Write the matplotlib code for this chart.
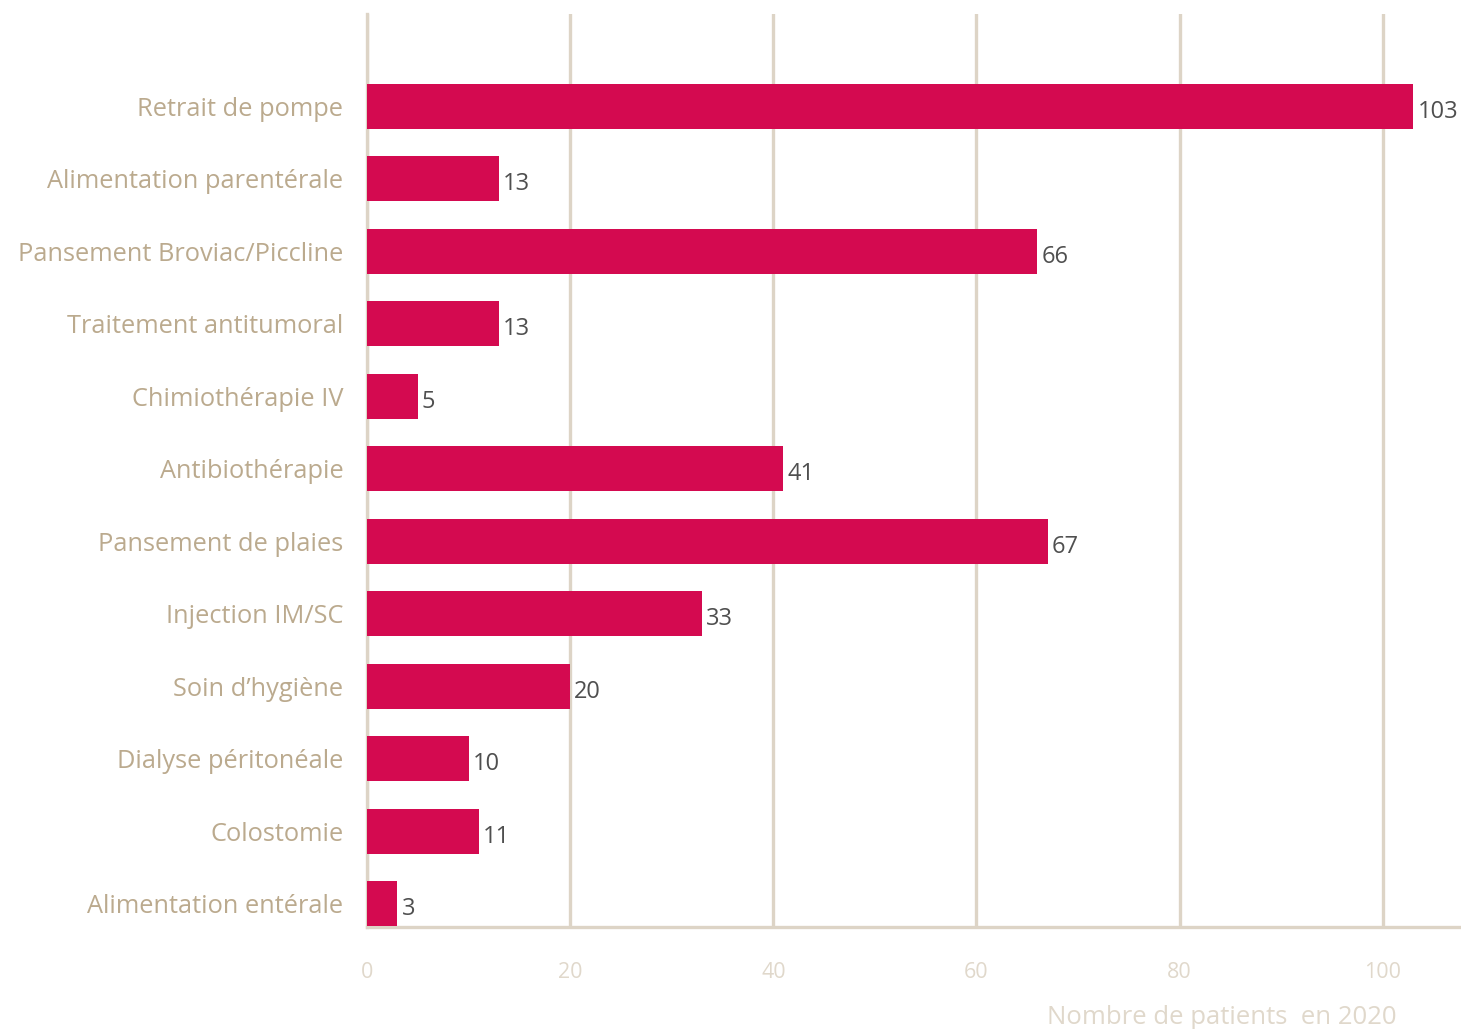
import matplotlib.pyplot as plt

categories = [
    "Retrait de pompe",
    "Alimentation parentérale",
    "Pansement Broviac/Piccline",
    "Traitement antitumoral",
    "Chimiothérapie IV",
    "Antibiothérapie",
    "Pansement de plaies",
    "Injection IM/SC",
    "Soin d\u2019hygiène",
    "Dialyse péritonéale",
    "Colostomie",
    "Alimentation entérale",
]
patients = [103, 13, 66, 13, 5, 41, 67, 33, 20, 10, 11, 3]
x_ticks = [0, 20, 40, 60, 80, 100]

BAR = "#D40A50"
LABEL = "#BBAA8E"
GRID = "#DDD4C6"
TICK = "#E0D8CB"
VALUE = "#4F4F4F"

plt.rcParams["font.family"] = ["Open Sans", "DejaVu Sans"]

fig = plt.figure(figsize=(14.61, 10.29), dpi=100)
ax = fig.add_axes([367 / 1461, 1 - 927 / 1029, (1460 - 367) / 1461, (927 - 14) / 1029])

n = len(categories)
ypos = list(range(n - 1, -1, -1))
ax.barh(ypos, patients, height=0.62, color=BAR, zorder=3)

for y, v in zip(ypos, patients):
    ax.annotate(str(v), (v, y), xytext=(3, -4), textcoords="offset points",
                ha="left", va="center", fontsize=17, color=VALUE, zorder=4)

ax.set_xlim(0, 107.6)
ax.set_ylim(-0.32, n - 1 + 1.27)

ax.set_yticks(ypos)
ax.set_yticklabels(categories, fontsize=18.3, color=LABEL)
ax.tick_params(axis="y", length=0, pad=17)

ax.set_xticks(x_ticks)
ax.set_xticklabels([str(t) for t in x_ticks], fontsize=15.5, color=TICK)
ax.tick_params(axis="x", length=0, pad=25)

ax.grid(axis="x", color=GRID, linewidth=2.4, zorder=0)
ax.grid(axis="y", visible=False)

for side in ["top", "right"]:
    ax.spines[side].set_visible(False)
for side in ["left", "bottom"]:
    ax.spines[side].set_color(GRID)
    ax.spines[side].set_linewidth(2.4)

fig.text(1397 / 1461, 1 - 1018 / 1029, "Nombre de patients  en 2020",
         ha="right", va="center", fontsize=18.5, color=TICK)

fig.savefig("out.png", dpi=100, facecolor="white")
